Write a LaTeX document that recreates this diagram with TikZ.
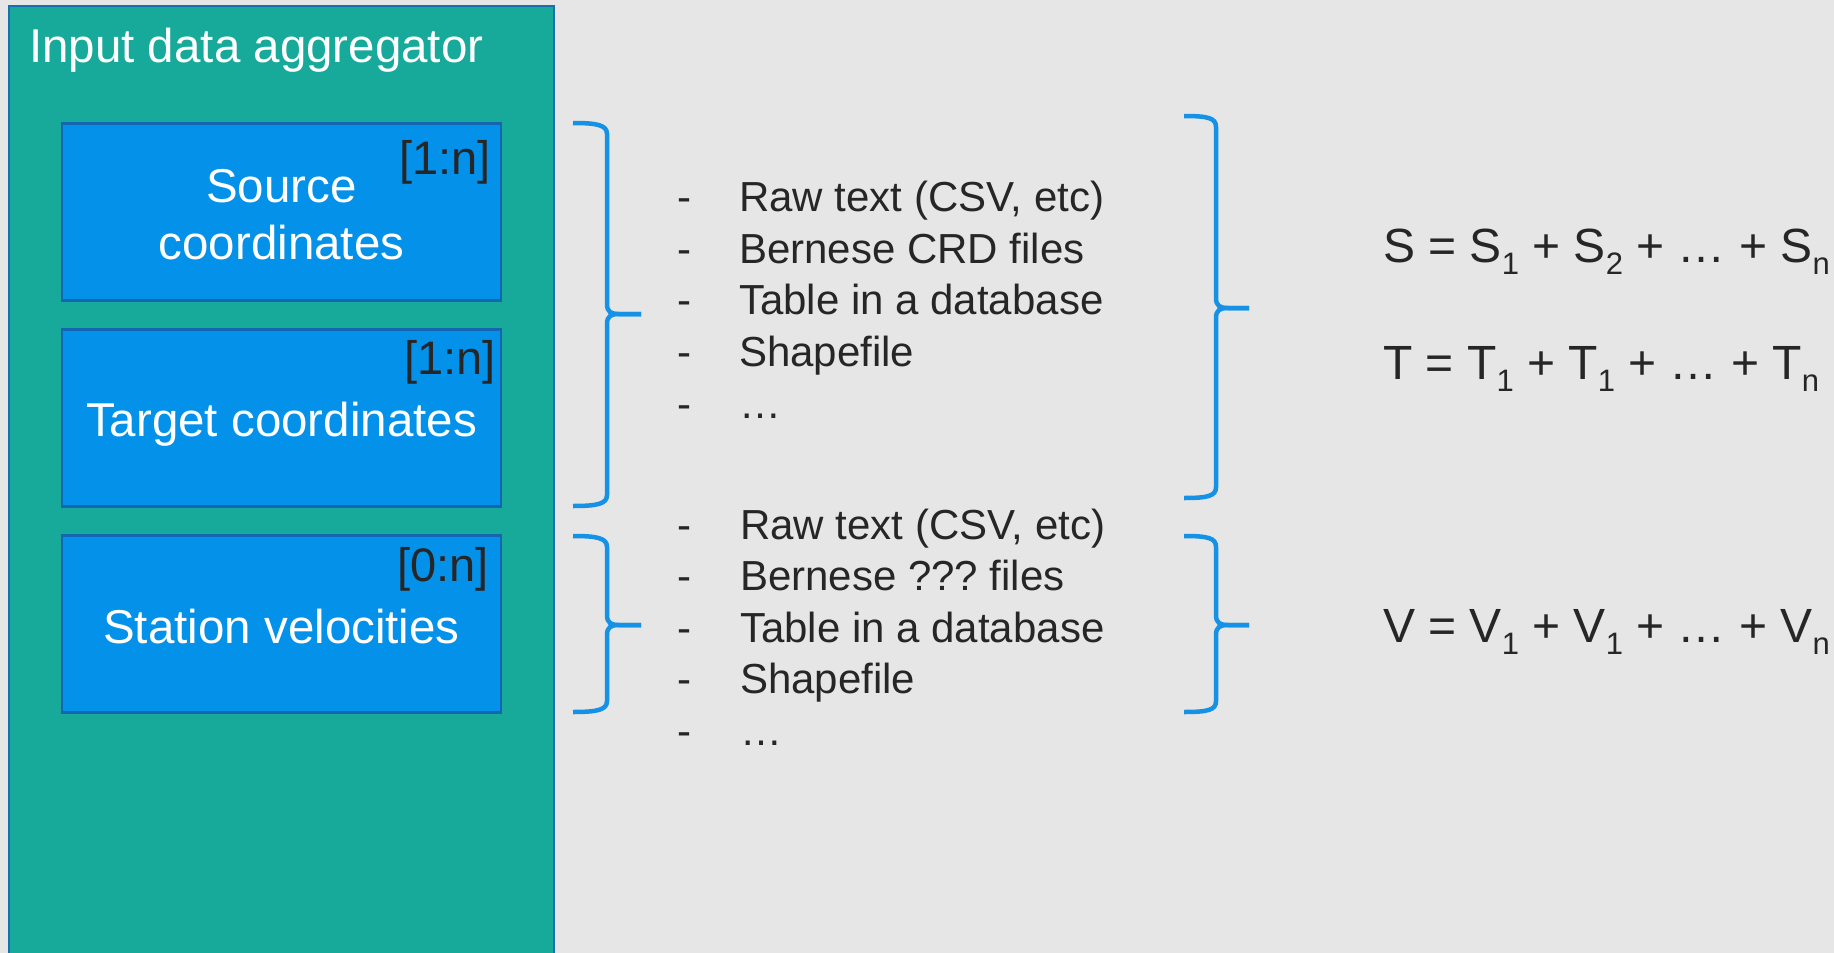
\documentclass[tikz,border=0pt]{standalone}
\usepackage{fontspec}
\setmainfont{Liberation Sans}
\frenchspacing
\definecolor{bgc}{HTML}{E6E6E6}
\definecolor{tealc}{HTML}{17AA9B}
\definecolor{tealb}{HTML}{1A6FB0}
\definecolor{boxc}{HTML}{0391EA}
\definecolor{boxb}{HTML}{1566B0}
\definecolor{bracec}{HTML}{1591E6}
\definecolor{txt}{HTML}{262626}
\newcommand{\mysub}[1]{\raisebox{-12pt}{\fontsize{31pt}{31pt}\selectfont #1}}
% #1 end x, #2 spine x, #3 tip x, #4 top y, #5 middle y, #6 bottom y
\newcommand{\DrawBrace}[6]{%
  \draw[bracestyle] (#1,#4) .. controls ({#1+24},{#4}) and ({#2},{#4+2}) .. ({#2},{#4+11})
    -- ({#2},{#5-10}) .. controls ({#2},{#5-2}) and ({#2+4},{#5}) .. ({#2+12},{#5}) -- (#3,#5);
  \draw[bracestyle] (#1,#6) .. controls ({#1+24},{#6}) and ({#2},{#6-2}) .. ({#2},{#6-11})
    -- ({#2},{#5+10}) .. controls ({#2},{#5+2}) and ({#2+4},{#5}) .. ({#2+12},{#5}) -- (#3,#5);}
\begin{document}
\begin{tikzpicture}[x=1pt,y=-1pt,
  inbox/.style={draw=boxb, line width=2.5pt, fill=boxc, minimum width=439pt, minimum height=177pt, inner sep=0pt},
  boxtext/.style={text=white, font=\fontsize{47.5pt}{57pt}\selectfont, inner sep=0pt},
  cardtext/.style={text=txt, font=\fontsize{47pt}{56pt}\selectfont, inner sep=0pt},
  listtext/.style={text=txt, font=\fontsize{42pt}{50pt}\selectfont, inner sep=0pt, anchor=base west},
  eqtext/.style={text=txt, font=\fontsize{48pt}{58pt}\selectfont, inner sep=0pt, anchor=base west},
  bracestyle/.style={draw=bracec, line width=4.5pt}]
\useasboundingbox (0,0) rectangle (1834,953);
\fill[bgc] (0,0) rectangle (1834,953);
% outer aggregator
\draw[tealb, line width=2pt, fill=tealc] (9,6) rectangle (554,970);
\node[boxtext, anchor=base west] (title) at (29,62) {Input data aggregator};
% inner boxes
\node[inbox] (src) at (281.5,212) {};
\node[inbox] (tgt) at (281.5,418) {};
\node[inbox] (vel) at (281.5,624) {};
\node[boxtext, anchor=base] (src1) at (281.5,202) {Source};
\node[boxtext, anchor=base] (src2) at (281.5,259) {coordinates};
\node[boxtext, anchor=base] (tgt1) at (281.5,436) {Target coordinates};
\node[boxtext, anchor=base] (vel1) at (281.5,643) {Station velocities};
\node[cardtext, anchor=base east] (srcn) at (491,174) {[1:n]};
\node[cardtext, anchor=base east] (tgtn) at (496,374) {[1:n]};
\node[cardtext, anchor=base east] (veln) at (489,581) {[0:n]};
% braces
\DrawBrace{573}{607}{641}{123}{314}{506}
\DrawBrace{573}{607}{641}{536}{625}{712}
\DrawBrace{1184}{1216}{1249}{116}{308}{498}
\DrawBrace{1184}{1216}{1249}{536}{625}{712}
% lists
\foreach \t/\y [count=\i] in {Raw text (CSV{,} etc)/211.5, Bernese CRD files/263, Table in a database/314, Shapefile/366, \ldots/418}{
  \node[listtext, anchor=base] (da\i) at (684,\y) {-};
  \node[listtext] (la\i) at (739,\y) {\t};
}
\foreach \t/\y [count=\i] in {Raw text (CSV{,} etc)/539, Bernese ??? files/590.5, Table in a database/642, Shapefile/693, \ldots/745}{
  \node[listtext, anchor=base] (db\i) at (684,\y) {-};
  \node[listtext] (lb\i) at (740,\y) {\t};
}
% equations
\node[eqtext] (eqs) at (1383,262) {S = S\mysub{1} + S\mysub{2} + … + S\mysub{n}};
\node[eqtext] (eqt) at (1383,379) {T = T\mysub{1} + T\mysub{1} + … + T\mysub{n}};
\node[eqtext] (eqv) at (1383,642) {V = V\mysub{1} + V\mysub{1} + … + V\mysub{n}};
\end{tikzpicture}
\end{document}
